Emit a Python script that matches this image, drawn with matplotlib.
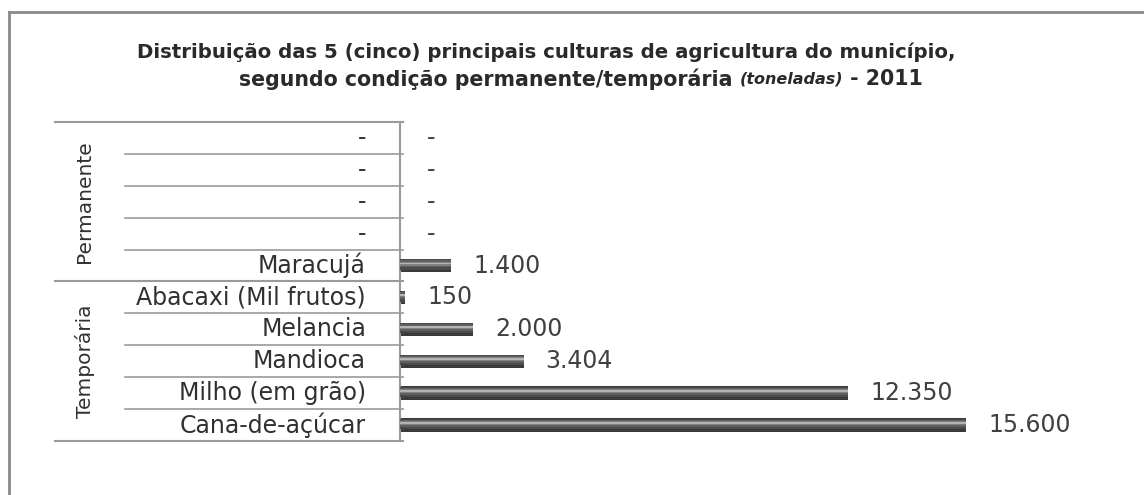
import matplotlib.pyplot as plt
from matplotlib.transforms import blended_transform_factory

plt.rcParams['font.family'] = ['DejaVu Sans']

# Data (top to bottom, as in the picture)
culturas = ["-", "-", "-", "-", "Maracujá",
            "Abacaxi (Mil frutos)", "Melancia", "Mandioca",
            "Milho (em grão)", "Cana-de-açúcar"]
valores = [0, 0, 0, 0, 1400, 150, 2000, 3404, 12350, 15600]
rotulos = ["-", "-", "-", "-", "1.400", "150", "2.000", "3.404", "12.350", "15.600"]
grupos = ["Permanente", "Temporária"]
tamanho_grupo = [5, 5]

W, H = 1144, 495
fig = plt.figure(figsize=(W / 100, H / 100), dpi=100)

def fx(px):
    return px / W

def fy(py):
    return 1 - py / H

# plot area: x from 400 px, rows from 122 px to 441 px
x0, x1 = 400, 1100
ax = fig.add_axes([fx(x0), fy(441), fx(x1 - x0), (441 - 122) / H])
xmax = 15600 * (x1 - x0) / (966 - x0)
ax.set_xlim(0, xmax)
n = len(culturas)
ax.set_ylim(n - 0.5, -0.5)
ax.axis('off')

pos = list(range(n))
# cylinder look: layered bars from dark edges to a light stripe
camadas = [(0.42, 0.00, '#3a3a3a'), (0.32, -0.03, '#4a4a4a'), (0.22, -0.05, '#606060'),
           (0.12, -0.06, '#808080'), (0.05, -0.07, '#b4b4b4')]
for k, (h, off, c) in enumerate(camadas):
    ax.barh([p + off for p in pos], valores, height=h, color=c, zorder=2 + k)

for p, v, lab in zip(pos, valores, rotulos):
    ax.annotate(lab, (v, p), xytext=(16 if v > 0 else 19, 0), textcoords='offset points',
                ha='left', va='center', fontsize=17, color='#404040')

# table of categories on the left
tr = blended_transform_factory(fig.transFigure, ax.transData)
line_c = '#9a9a9a'
ax.plot([fx(55), fx(403)], [-0.5, -0.5], transform=tr, color=line_c, lw=1.5, clip_on=False)
start = 0
for g, size in zip(grupos, tamanho_grupo):
    for k in range(1, size):
        yb = start + k - 0.5
        ax.plot([fx(125), fx(403)], [yb, yb], transform=tr, color=line_c, lw=1.2, clip_on=False)
    end = start + size - 0.5
    ax.plot([fx(55), fx(403)], [end, end], transform=tr, color=line_c, lw=1.5, clip_on=False)
    ax.text(fx(85), start + size / 2 - 0.5, g, transform=tr, rotation=90,
            ha='center', va='center', fontsize=14.5, color='#303030')
    start += size
ax.plot([fx(400), fx(400)], [-0.5, n - 0.5], transform=tr, color=line_c, lw=1.5, clip_on=False)

for p, c in zip(pos, culturas):
    ax.text(fx(366), p, c, transform=tr, ha='right', va='center',
            fontsize=17, color='#303030')

# outer frame
fig.add_artist(plt.Line2D([fx(9), 1], [fy(12), fy(12)], color='#8a8a8a', lw=2))
fig.add_artist(plt.Line2D([fx(9), fx(9)], [fy(12), 0], color='#8a8a8a', lw=2))

# title
fig.text(fx(546), fy(52), "Distribuição das 5 (cinco) principais culturas de agricultura do município,",
         ha='center', va='center', fontsize=14.2, fontweight='bold', color='#2a2a2a')
partes = [("segundo condição permanente/temporária ", 14.8, 'normal'),
          ("(toneladas)", 11.5, 'italic'),
          (" - 2011", 14.8, 'normal')]
r = fig.canvas.get_renderer()
textos = []
for s, fs, st in partes:
    t = fig.text(0, fy(79), s, ha='left', va='center', fontsize=fs, fontweight='bold',
                 style=st, color='#2a2a2a')
    textos.append(t)
larguras = [t.get_window_extent(r).width for t in textos]
x = 581 - sum(larguras) / 2
for t, w in zip(textos, larguras):
    t.set_x(fx(x))
    x += w

fig.savefig('out.png', dpi=100)
